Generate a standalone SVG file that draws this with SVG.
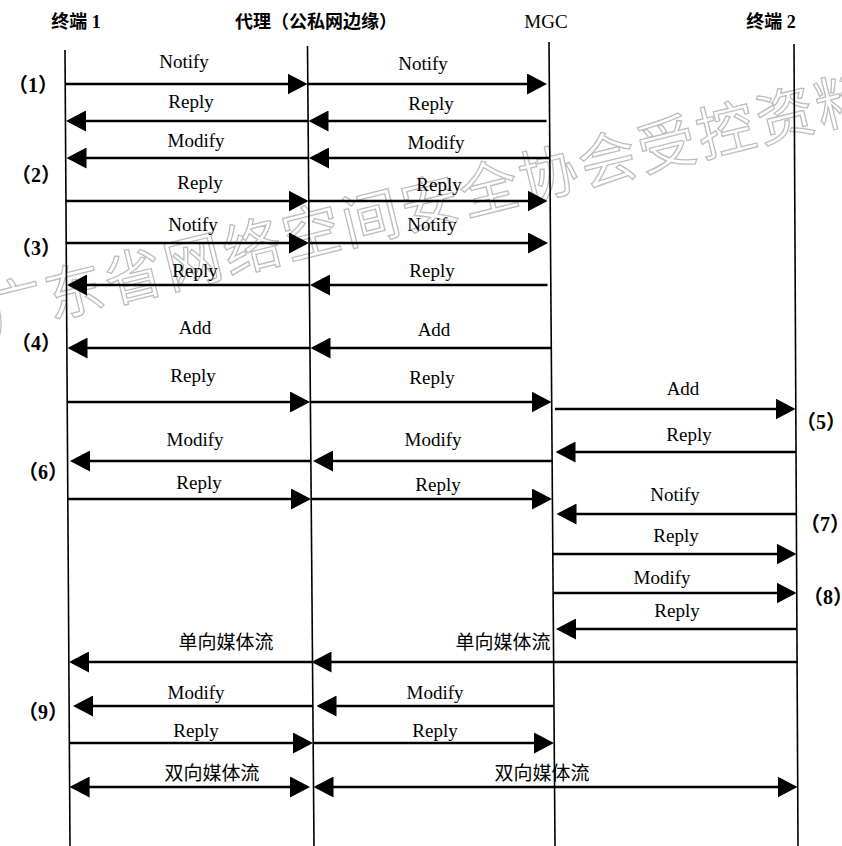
<svg xmlns="http://www.w3.org/2000/svg" width="842" height="846" viewBox="0 0 842 846">
<style>
.bg{fill:#fff}
.life{stroke:#000;stroke-width:1.6;fill:none}
.msg{stroke:#000;stroke-width:2.6;fill:none}
.arr{marker-end:url(#ah)}
.dbl{marker-start:url(#ah);marker-end:url(#ah)}
.lbl{font-family:"Liberation Serif","Times New Roman",serif;font-size:19px;fill:#000;text-anchor:middle}
.cjk{font-family:"Noto Sans CJK SC","Noto Sans",sans-serif;font-size:19px;fill:#000;text-anchor:middle}
.title{font-family:"Liberation Serif","Noto Sans CJK SC",serif;font-size:18px;font-weight:bold;fill:#000;text-anchor:middle}
.step{font-family:"Liberation Serif","Noto Sans CJK SC",serif;font-size:20px;font-weight:bold;fill:#000;text-anchor:middle}
.wm{font-family:"Noto Sans CJK SC",sans-serif;font-size:58px;letter-spacing:3px;fill:none;stroke:#bdbdbd;stroke-width:1.3}
</style>
<defs>
<marker id="ah" viewBox="0 0 20 21" markerWidth="20" markerHeight="21" refX="17" refY="10.5" orient="auto-start-reverse" markerUnits="userSpaceOnUse">
<path d="M0,0 L20,10.5 L0,21 Z" fill="#000"/>
</marker>
</defs>
<rect class="bg" x="0" y="0" width="842" height="846"/>

<g id="watermark">
<text class="wm" transform="translate(-7.9,333.3) rotate(-13.9)">广东省网络空间安全协会受控资料</text>
</g>

<g id="terminal1">
<text class="title" x="76" y="28">终端 1</text>
<line class="life" x1="65" y1="50" x2="70" y2="846"/>
</g>
<g id="proxy">
<text class="title" x="316" y="28">代理（公私网边缘）</text>
<line class="life" x1="307.5" y1="46" x2="314" y2="846"/>
</g>
<g id="mgc">
<text class="lbl" x="546" y="28">MGC</text>
<line class="life" x1="549" y1="42" x2="555" y2="846"/>
</g>
<g id="terminal2">
<text class="title" x="771" y="28">终端 2</text>
<line class="life" x1="794" y1="44" x2="798" y2="846"/>
</g>

<g id="steps">
<text class="step" x="33" y="92">（1）</text>
<text class="step" x="36" y="182">（2）</text>
<text class="step" x="36" y="255">（3）</text>
<text class="step" x="36" y="350">（4）</text>
<text class="step" x="821" y="429">（5）</text>
<text class="step" x="43" y="479">（6）</text>
<text class="step" x="825" y="531">（7）</text>
<text class="step" x="828" y="604">（8）</text>
<text class="step" x="43" y="719">（9）</text>
</g>

<g id="connectors">
<!-- (1) Notify -->
<line class="msg arr" x1="65.2" y1="84" x2="304.5" y2="84"/>
<line class="msg arr" x1="307.8" y1="84" x2="544" y2="84"/>
<!-- Reply -->
<line class="msg arr" x1="308.1" y1="121" x2="69" y2="121"/>
<line class="msg arr" x1="546.5" y1="121" x2="311.5" y2="121"/>
<!-- Modify -->
<line class="msg arr" x1="308.4" y1="158" x2="69.5" y2="158"/>
<line class="msg arr" x1="549.9" y1="158" x2="312" y2="158"/>
<!-- (2) Reply -->
<line class="msg arr" x1="65.9" y1="201" x2="305.5" y2="201"/>
<line class="msg arr" x1="308.8" y1="201" x2="544.5" y2="201"/>
<!-- (3) Notify -->
<line class="msg arr" x1="66.2" y1="243" x2="306" y2="243"/>
<line class="msg arr" x1="309.1" y1="243" x2="545" y2="243"/>
<!-- Reply -->
<line class="msg arr" x1="309.4" y1="285" x2="70" y2="285"/>
<line class="msg arr" x1="547.5" y1="285" x2="313" y2="285"/>
<!-- (4) Add -->
<line class="msg arr" x1="310" y1="348" x2="70.5" y2="348"/>
<line class="msg arr" x1="551.3" y1="348" x2="313.5" y2="348"/>
<!-- Reply -->
<line class="msg arr" x1="67.2" y1="402" x2="307" y2="402"/>
<line class="msg arr" x1="310.4" y1="402" x2="548.5" y2="402"/>
<!-- (5) Add -->
<line class="msg arr" x1="555" y1="409" x2="792.5" y2="409"/>
<!-- Reply from T2 -->
<line class="msg arr" x1="796" y1="452" x2="558.5" y2="452"/>
<!-- (6) Modify -->
<line class="msg arr" x1="310.9" y1="461" x2="73" y2="461"/>
<line class="msg arr" x1="552.1" y1="461" x2="316" y2="461"/>
<!-- Reply -->
<line class="msg arr" x1="67.8" y1="499" x2="308" y2="499"/>
<line class="msg arr" x1="311.2" y1="499" x2="549" y2="499"/>
<!-- (7) Notify -->
<line class="msg arr" x1="796.3" y1="514" x2="559.5" y2="514"/>
<!-- Reply -->
<line class="msg arr" x1="552.8" y1="554" x2="793.5" y2="554"/>
<!-- (8) Modify -->
<line class="msg arr" x1="553.1" y1="593" x2="793.5" y2="593"/>
<!-- Reply -->
<line class="msg arr" x1="796.9" y1="629" x2="559" y2="629"/>
<!-- one-way media -->
<line class="msg arr" x1="797.1" y1="662" x2="314.5" y2="662"/>
<line class="msg arr" x1="312.5" y1="662" x2="72" y2="662"/>
<!-- (9) Modify -->
<line class="msg arr" x1="553.8" y1="706" x2="319.5" y2="706"/>
<line class="msg arr" x1="312.9" y1="706" x2="76" y2="706"/>
<!-- Reply -->
<line class="msg arr" x1="69.4" y1="743" x2="310" y2="743"/>
<line class="msg arr" x1="313.2" y1="743" x2="551" y2="743"/>
<!-- two-way media -->
<line class="msg dbl" x1="72.6" y1="787" x2="307" y2="787"/>
<line class="msg dbl" x1="316.5" y1="787" x2="794.5" y2="787"/>
</g>

<g id="labels">
<text class="lbl" x="184" y="68">Notify</text>
<text class="lbl" x="423" y="70">Notify</text>
<text class="lbl" x="191" y="108">Reply</text>
<text class="lbl" x="431" y="110">Reply</text>
<text class="lbl" x="196" y="147">Modify</text>
<text class="lbl" x="436" y="149">Modify</text>
<text class="lbl" x="200" y="189">Reply</text>
<text class="lbl" x="439" y="191">Reply</text>
<text class="lbl" x="193" y="231">Notify</text>
<text class="lbl" x="432" y="231">Notify</text>
<text class="lbl" x="195" y="277">Reply</text>
<text class="lbl" x="432" y="277">Reply</text>
<text class="lbl" x="195" y="334">Add</text>
<text class="lbl" x="434" y="336">Add</text>
<text class="lbl" x="193" y="382">Reply</text>
<text class="lbl" x="432" y="384">Reply</text>
<text class="lbl" x="683" y="395">Add</text>
<text class="lbl" x="689" y="441">Reply</text>
<text class="lbl" x="195" y="446">Modify</text>
<text class="lbl" x="433" y="446">Modify</text>
<text class="lbl" x="199" y="489">Reply</text>
<text class="lbl" x="438" y="491">Reply</text>
<text class="lbl" x="675" y="501">Notify</text>
<text class="lbl" x="676" y="542">Reply</text>
<text class="lbl" x="662" y="584">Modify</text>
<text class="lbl" x="677" y="617">Reply</text>
<text class="cjk" x="226" y="649">单向媒体流</text>
<text class="cjk" x="503" y="649">单向媒体流</text>
<text class="lbl" x="196" y="699">Modify</text>
<text class="lbl" x="435" y="699">Modify</text>
<text class="lbl" x="196" y="737">Reply</text>
<text class="lbl" x="435" y="737">Reply</text>
<text class="cjk" x="212" y="780">双向媒体流</text>
<text class="cjk" x="542" y="780">双向媒体流</text>
</g>
</svg>
